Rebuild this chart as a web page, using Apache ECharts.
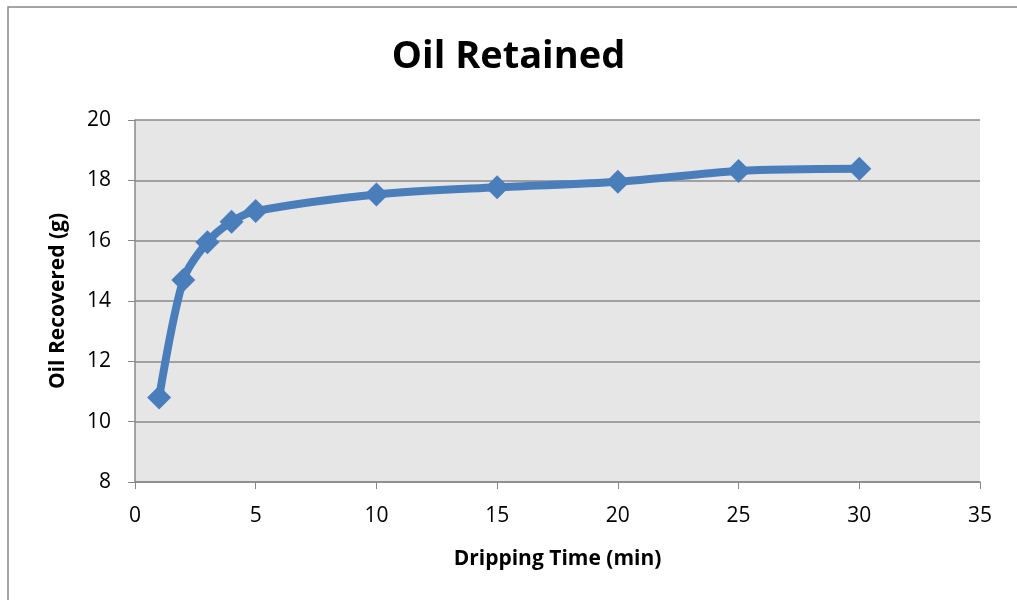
<!DOCTYPE html>
<html>
<head>
<meta charset="utf-8">
<script src="https://cdn.jsdelivr.net/npm/echarts@6/dist/echarts.min.js"></script>
<style>html,body{margin:0;padding:0;background:#fff}#c{width:1017px;height:600px}</style>
</head>
<body>
<div id="c"></div>
<script>
var xValues = [1, 2, 3, 4, 5, 10, 15, 20, 25, 30];
var yValues = [10.8, 14.7, 15.95, 16.63, 16.98, 17.53, 17.77, 17.95, 18.31, 18.38];
var chart = echarts.init(document.getElementById('c'));
var FONT = 'Open Sans';
chart.setOption({
  animation: false,
  backgroundColor: '#fff',
  graphic: [{
    type: 'rect', z: -1,
    shape: {x: 8, y: 7, width: 1040, height: 620},
    style: {fill: 'none', stroke: '#888', lineWidth: 1.5}
  }],
  title: {
    text: 'Oil Retained', left: 'center', top: 33,
    textStyle: {fontFamily: FONT, fontWeight: 'bold', fontSize: 38, color: '#000'}
  },
  grid: {left: 135, right: 37, top: 120, bottom: 118, show: true, backgroundColor: '#e6e6e6', borderWidth: 0},
  xAxis: {
    type: 'value', min: 0, max: 35, interval: 5,
    name: 'Dripping Time (min)', nameLocation: 'middle', nameGap: 67,
    nameTextStyle: {fontFamily: FONT, fontWeight: 'bold', fontSize: 21, color: '#000'},
    axisLine: {show: true, onZero: false, lineStyle: {color: '#888', width: 1.5}},
    axisTick: {show: true, length: 7, lineStyle: {color: '#888'}},
    axisLabel: {fontFamily: FONT, fontSize: 21, color: '#000', margin: 24},
    splitLine: {show: false}
  },
  yAxis: {
    type: 'value', min: 8, max: 20, interval: 2,
    name: 'Oil Recovered (g)', nameLocation: 'middle', nameGap: 66, nameRotate: 90,
    nameTextStyle: {fontFamily: FONT, fontWeight: 'bold', fontSize: 21, color: '#000'},
    axisLine: {show: true, lineStyle: {color: '#888', width: 1.5}},
    axisTick: {show: true, length: 7, lineStyle: {color: '#888'}},
    axisLabel: {fontFamily: FONT, fontSize: 21, color: '#000', margin: 24},
    splitLine: {show: true, lineStyle: {color: '#888', width: 1.5}}
  },
  series: [{
    type: 'line',
    data: xValues.map(function (x, i) { return [x, yValues[i]]; }),
    smooth: 0.3,
    symbol: 'diamond', symbolSize: 24,
    lineStyle: {color: '#4a7ebb', width: 8},
    itemStyle: {color: '#4a7ebb'}
  }]
});
</script>
</body>
</html>
